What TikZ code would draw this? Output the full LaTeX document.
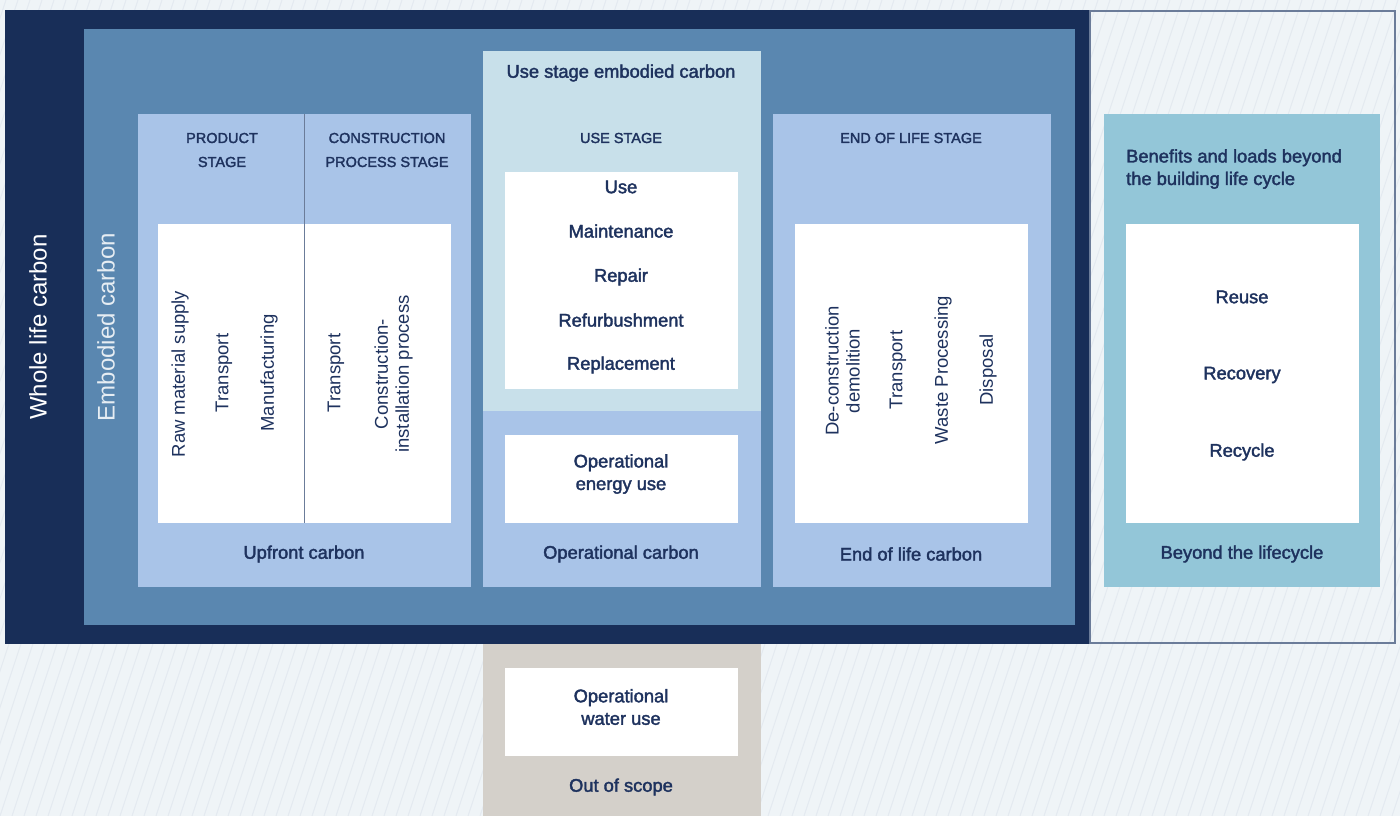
\documentclass[tikz,border=0pt]{standalone}
\usepackage{fontspec}
\setmainfont{Liberation Sans}
\newfontfamily\medfont{Liberation Sans}[FakeBold=2]

\definecolor{navy}{HTML}{182E58}
\definecolor{steel}{HTML}{5A87B0}
\definecolor{stage}{HTML}{A9C4E8}
\definecolor{usepale}{HTML}{C8E0EA}
\definecolor{beyond}{HTML}{93C6D8}
\definecolor{scope}{HTML}{D4D0CA}
\definecolor{ink}{HTML}{1E325E}
\definecolor{paper}{HTML}{EFF4F7}
\definecolor{hatch}{HTML}{E4EAF0}
\definecolor{rim}{HTML}{6B7C99}

\tikzset{
  lbl/.style={text=ink, font=\medfont\fontsize{18.3}{22.5}\selectfont, align=center, inner sep=0pt},
  caps/.style={text=ink, font=\medfont\fontsize{14.5}{24}\selectfont, align=center, inner sep=0pt},
  side/.style={text=ink, font=\fontsize{18.5}{21}\selectfont, rotate=90, align=center, inner sep=0pt},
}

\begin{document}
\begin{tikzpicture}[x=1pt,y=-1pt]
  \useasboundingbox (0,0) rectangle (1400,816);
  \fill[paper] (0,0) rectangle (1400,816);
  \begin{scope}
    \clip (0,0) rectangle (1400,816);
    \foreach \x in {-300,-288,...,1400} {
      \draw[hatch, line width=1pt] (\x,816) -- ++(270,-816);
    }
  \end{scope}

  % outer frames
  \fill[navy] (5,10) rectangle (1090,644);
  \draw[rim, line width=1.2pt] (1090,11) rectangle (1395,643);
  \fill[steel] (84,29) rectangle (1075,625);

  % stage panels
  \fill[stage] (138,114) rectangle (471,587);
  \draw[rim, line width=1pt] (304,114) -- (304,523);
  \fill[usepale] (483,51) rectangle (761,411);
  \fill[stage] (483,411) rectangle (761,587);
  \fill[stage] (773,114) rectangle (1051,587);
  \fill[beyond] (1104,114) rectangle (1380,587);
  \fill[scope] (483,644) rectangle (761,816);

  % white inner boxes
  \fill[white] (158,224) rectangle (303.5,523);
  \fill[white] (304.5,224) rectangle (451,523);
  \fill[white] (505,172) rectangle (738,389);
  \fill[white] (505,435) rectangle (738,523);
  \fill[white] (795,224) rectangle (1028,523);
  \fill[white] (1126,224) rectangle (1359,523);
  \fill[white] (505,668) rectangle (738,756);

  % side titles
  \node[side, text=white, font=\fontsize{24}{26}\selectfont] (whole) at (38,327) {Whole life carbon};
  \node[side, text=white!85!steel, font=\fontsize{24}{26}\selectfont] (embodied) at (106,327) {Embodied carbon};

  % stage headings
  \node[caps] (product) at (222,150) {PRODUCT\\STAGE};
  \node[caps] (construction) at (387,150) {CONSTRUCTION\\PROCESS STAGE};
  \node[caps] (usestage) at (621,138) {USE STAGE};
  \node[caps] (endstage) at (911,138) {END OF LIFE STAGE};
  \node[lbl] (useembodied) at (621,73) {Use stage embodied carbon};
  \node[lbl, align=left, anchor=west] (benefits) at (1126,169) {Benefits and loads beyond\\the building life cycle};

  % modules
  \node[side] (raw) at (180,374) {Raw material supply};
  \node[side] (transportA) at (224,373) {Transport};
  \node[side] (manufacturing) at (269,373) {Manufacturing};
  \node[side] (transportB) at (336,373) {Transport};
  \node[side] (install) at (393.5,374) {Construction-\\installation process};

  \node[lbl] (use) at (621,187) {Use};
  \node[lbl] (maintenance) at (621,231) {Maintenance};
  \node[lbl] (repair) at (621,277) {Repair};
  \node[lbl] (refurb) at (621,320) {Refurbushment};
  \node[lbl] (replacement) at (621,365) {Replacement};
  \node[lbl] (energy) at (621,474) {Operational\\energy use};
  \node[lbl] (water) at (621,707) {Operational\\water use};

  \node[side] (deconstruction) at (842.5,371) {De-construction\\demolition};
  \node[side] (transportC) at (898,370) {Transport};
  \node[side] (waste) at (943,370) {Waste Processing};
  \node[side] (disposal) at (988,370) {Disposal};

  \node[lbl] (reuse) at (1242,297) {Reuse};
  \node[lbl] (recovery) at (1242,375) {Recovery};
  \node[lbl] (recycle) at (1242,452) {Recycle};

  % footers
  \node[lbl] (upfront) at (304,554) {Upfront carbon};
  \node[lbl] (operational) at (621,554) {Operational carbon};
  \node[lbl] (endoflife) at (911,554) {End of life carbon};
  \node[lbl] (lifecycle) at (1242,554) {Beyond the lifecycle};
  \node[lbl] (outscope) at (621,787) {Out of scope};
\end{tikzpicture}
\end{document}
